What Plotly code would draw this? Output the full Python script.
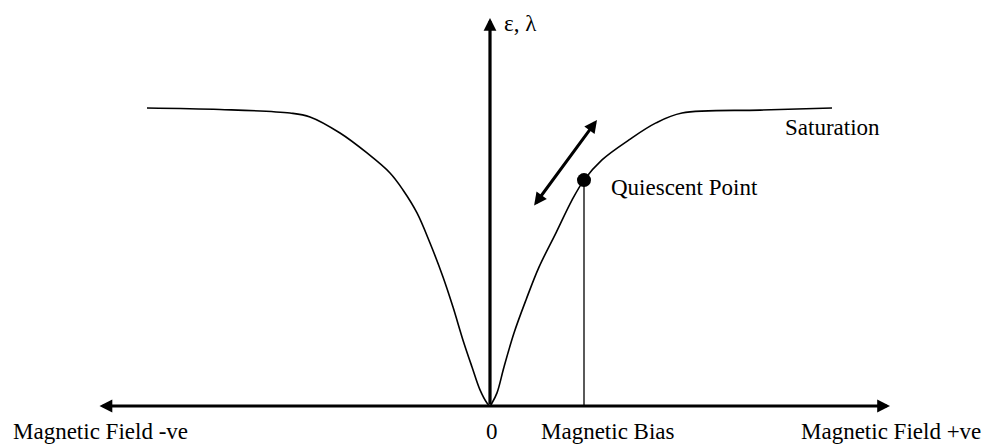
import plotly.graph_objects as go

# Magnetostriction curve: strain (normalised to saturation) vs applied field (arbitrary units)
field_neg = [-3.43, -2.70, -2.00, -1.80, -1.50, -1.23, -1.00, -0.87, -0.73, -0.60,
             -0.47, -0.37, -0.27, -0.18, -0.10, -0.03, 0.00]
strain_neg = [1.000, 0.995, 0.983, 0.970, 0.916, 0.849, 0.782, 0.725, 0.648, 0.547,
              0.433, 0.332, 0.221, 0.131, 0.054, 0.010, 0.000]
field_pos = [0.02, 0.07, 0.14, 0.24, 0.36, 0.49, 0.66, 0.82, 0.94, 1.12, 1.39, 1.66,
             1.92, 2.70, 3.42]
strain_pos = [0.010, 0.044, 0.131, 0.245, 0.356, 0.466, 0.581, 0.691, 0.758, 0.826,
              0.893, 0.950, 0.983, 0.993, 1.000]

# Operating (bias) point
bias_field = 0.94
bias_strain = 0.758

# Excursion arrow about the bias point (start / end)
swing_field = [0.43, 1.07]
swing_strain = [0.668, 0.960]

# Axis extents
h_axis = [-3.92, 4.00]
v_axis_top = 1.302

x_range = [-4.90, 4.96]
y_range = [-0.1376, 1.3624]

FONT = "Liberation Serif"
TEXT_SIZE = 23

fig = go.Figure()

fig.add_trace(go.Scatter(
    x=field_neg + field_pos, y=strain_neg + strain_pos,
    mode="lines", line=dict(color="black", width=1.6, shape="spline", smoothing=1.0),
    hoverinfo="skip", showlegend=False))

# Drop line from the bias point to the field axis
fig.add_trace(go.Scatter(
    x=[bias_field, bias_field], y=[bias_strain, 0],
    mode="lines", line=dict(color="black", width=1.3),
    hoverinfo="skip", showlegend=False))

fig.add_trace(go.Scatter(
    x=[bias_field], y=[bias_strain], mode="markers",
    marker=dict(color="black", size=14),
    hoverinfo="skip", showlegend=False))

annotations = []

# Field axis (double-headed)
annotations.append(dict(
    x=h_axis[1], y=0, ax=h_axis[0], ay=0, xref="x", yref="y", axref="x", ayref="y",
    showarrow=True, arrowhead=2, startarrowhead=2, arrowside="end+start",
    arrowwidth=3.2, arrowsize=0.8, startarrowsize=0.8, arrowcolor="black", text="",
    standoff=0, startstandoff=0))

# Strain axis
annotations.append(dict(
    x=0, y=v_axis_top, ax=0, ay=0, xref="x", yref="y", axref="x", ayref="y",
    showarrow=True, arrowhead=2, arrowwidth=3.2, arrowsize=0.8, arrowcolor="black",
    text="", standoff=0))

# Excursion arrow about the bias point
annotations.append(dict(
    x=swing_field[1], y=swing_strain[1], ax=swing_field[0], ay=swing_strain[0],
    xref="x", yref="y", axref="x", ayref="y",
    showarrow=True, arrowhead=2, startarrowhead=2, arrowside="end+start",
    arrowwidth=3, arrowsize=0.85, startarrowsize=0.85, arrowcolor="black", text="",
    standoff=0, startstandoff=0))

labels = [
    ("Magnetic Field -ve", -4.79, -0.087, "left"),
    ("0", 0.02, -0.087, "center"),
    ("Magnetic Bias", 0.49, -0.087, "left"),
    ("Magnetic Field +ve", 4.93, -0.087, "right"),
    ("Saturation", 2.93, 0.936, "left"),
    ("Quiescent Point", 1.19, 0.732, "left"),
    ("ε, λ", 0.12, 1.285, "left"),
]
for text, x, y, anchor in labels:
    annotations.append(dict(
        x=x, y=y, xref="x", yref="y", text=text, showarrow=False,
        xanchor=anchor, yanchor="middle",
        font=dict(family=FONT, size=TEXT_SIZE, color="black")))

fig.update_layout(
    width=986, height=447,
    margin=dict(l=0, r=0, t=0, b=0),
    paper_bgcolor="white", plot_bgcolor="white",
    font=dict(family=FONT),
    xaxis=dict(visible=False, range=x_range, fixedrange=True),
    yaxis=dict(visible=False, range=y_range, fixedrange=True),
    annotations=annotations,
    showlegend=False,
)

fig.write_html("out.html")
